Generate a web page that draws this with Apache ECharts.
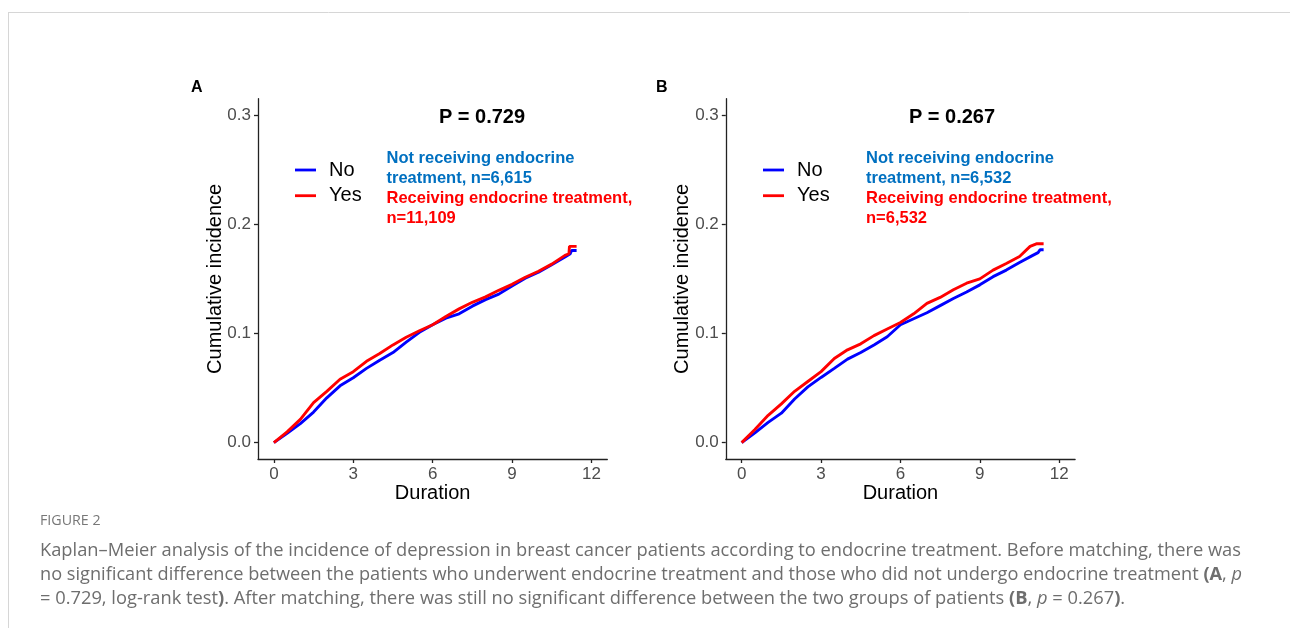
<!DOCTYPE html>
<html><head><meta charset="utf-8">
<script src="https://cdn.jsdelivr.net/npm/echarts@6/dist/echarts.min.js"></script>
<style>html,body{margin:0;padding:0;background:#fff}#c{width:1290px;height:628px}</style>
</head><body><div id="c"></div>
<script>
// ---- data ----
const xTicks = [0, 3, 6, 9, 12];
const yTicks = [0, 0.1, 0.2, 0.3];

const timesANo  = [0, 0.5, 1.0, 1.5, 2.0, 2.5, 3.0, 3.5, 4.0, 4.5, 5.0, 5.5, 6.0, 6.5, 7.0, 7.5, 8.0, 8.5, 9.0, 9.5, 10.0, 10.5, 11.0, 11.2, 11.25, 11.44];
const valuesANo = [0, 0.0085, 0.0174, 0.028, 0.041, 0.052, 0.0594, 0.068, 0.0755, 0.0825, 0.092, 0.101, 0.108, 0.114, 0.118, 0.125, 0.131, 0.136, 0.1435, 0.1505, 0.156, 0.163, 0.170, 0.173, 0.176, 0.176];

const timesAYes  = [0, 0.5, 1.0, 1.5, 2.0, 2.5, 3.0, 3.5, 4.0, 4.5, 5.0, 5.5, 6.0, 6.5, 7.0, 7.5, 8.0, 8.5, 9.0, 9.5, 10.0, 10.5, 11.0, 11.15, 11.17, 11.44];
const valuesAYes = [0, 0.0098, 0.0213, 0.0366, 0.047, 0.058, 0.065, 0.0745, 0.0816, 0.0895, 0.0965, 0.1025, 0.108, 0.1155, 0.1225, 0.1285, 0.1335, 0.1395, 0.145, 0.1515, 0.157, 0.1635, 0.1715, 0.173, 0.1797, 0.1797];

const timesBNo  = [0, 0.5, 1.0, 1.5, 2.0, 2.5, 3.0, 3.5, 4.0, 4.5, 5.0, 5.5, 6.0, 6.5, 7.0, 7.5, 8.0, 8.5, 9.0, 9.5, 10.0, 10.5, 11.0, 11.2, 11.28, 11.41];
const valuesBNo = [0, 0.009, 0.0185, 0.027, 0.040, 0.051, 0.0597, 0.068, 0.0765, 0.0825, 0.0895, 0.097, 0.108, 0.1135, 0.119, 0.1255, 0.132, 0.138, 0.1445, 0.152, 0.158, 0.165, 0.1715, 0.174, 0.1767, 0.1767];

const timesBYes  = [0, 0.5, 1.0, 1.5, 2.0, 2.5, 3.0, 3.5, 4.0, 4.5, 5.0, 5.5, 6.0, 6.5, 7.0, 7.5, 8.0, 8.5, 9.0, 9.5, 10.0, 10.5, 10.9, 11.16, 11.41];
const valuesBYes = [0, 0.012, 0.025, 0.0355, 0.047, 0.056, 0.065, 0.077, 0.085, 0.0905, 0.098, 0.104, 0.110, 0.118, 0.1275, 0.133, 0.140, 0.146, 0.150, 0.158, 0.164, 0.1705, 0.1797, 0.1822, 0.1822];

const panelLetters = ['A', 'B'];
const pValues = ['P = 0.729', 'P = 0.267'];
const groupNames = ['No', 'Yes'];
const annotA = ['Not receiving endocrine', 'treatment, n=6,615', 'Receiving endocrine treatment,', 'n=11,109'];
const annotB = ['Not receiving endocrine', 'treatment, n=6,532', 'Receiving endocrine treatment,', 'n=6,532'];

// ---- build ----
const zip = (t, v) => t.map((x, i) => [x, v[i]]);
const FONT = '"Liberation Sans", Arial, Helvetica, sans-serif';
const BLUE = '#0000FF', RED = '#FF0000', ANN_BLUE = '#0070C0';

function xAxis(gi) {
  return {
    type: 'value', gridIndex: gi, min: -0.6, max: 12.6,
    name: 'Duration', nameLocation: 'middle', nameGap: 24, nameMoveOverlap: false,
    nameTextStyle: { fontSize: 20, color: '#000', fontFamily: FONT },
    axisLine: { onZero: false, lineStyle: { color: '#222', width: 1.3 } },
    axisTick: { show: true, length: 4, customValues: xTicks, lineStyle: { color: '#222', width: 1.3 } },
    axisLabel: { customValues: xTicks, fontSize: 17, color: '#4d4d4d', margin: 7, fontFamily: FONT, formatter: v => String(v) },
    splitLine: { show: false }
  };
}
function yAxis(gi) {
  return {
    type: 'value', gridIndex: gi, min: -0.015, max: 0.315,
    name: 'Cumulative incidence', nameLocation: 'middle', nameGap: 33, nameRotate: 90, nameMoveOverlap: false,
    nameTextStyle: { fontSize: 20, color: '#000', fontFamily: FONT },
    axisLine: { onZero: false, lineStyle: { color: '#222', width: 1.3 } },
    axisTick: { show: true, length: 4, customValues: yTicks, lineStyle: { color: '#222', width: 1.3 } },
    axisLabel: { customValues: yTicks, fontSize: 17, color: '#4d4d4d', margin: 7, fontFamily: FONT, formatter: v => v.toFixed(1) },
    splitLine: { show: false }
  };
}
function line(name, gi, data, color) {
  return {
    type: 'line', name, xAxisIndex: gi, yAxisIndex: gi, data,
    showSymbol: false, symbol: 'none', lineStyle: { color, width: 2.9 }, itemStyle: { color },
    animation: false, z: name === 'Yes' ? 3 : 2
  };
}

const graphics = [];
// frame
graphics.push({ type: 'line', shape: { x1: 8, y1: 12.5, x2: 1290, y2: 12.5 }, style: { stroke: '#d6d6d6', lineWidth: 1 }, silent: true });
graphics.push({ type: 'line', shape: { x1: 8.5, y1: 12, x2: 8.5, y2: 628 }, style: { stroke: '#d6d6d6', lineWidth: 1 }, silent: true });

const letterX = [191, 656];
const pX = [482, 952];
const annX = [386.5, 866];
const legX = [295, 763];
[annotA, annotB].forEach((ann, p) => {
  graphics.push({ type: 'text', x: letterX[p], y: 88, style: { text: panelLetters[p], font: 'bold 16px ' + FONT, fill: '#000', verticalAlign: 'middle' } });
  graphics.push({ type: 'text', x: pX[p], y: 117, style: { text: pValues[p], font: 'bold 20px ' + FONT, fill: '#000', align: 'center', verticalAlign: 'middle' } });
  ann.forEach((t, i) => {
    graphics.push({ type: 'text', x: annX[p], y: 158 + i * 20, style: { text: t, font: 'bold 16.5px ' + FONT, fill: i < 2 ? ANN_BLUE : RED, verticalAlign: 'middle' } });
  });
  // legend keys
  [BLUE, RED].forEach((c, i) => {
    const y = 170 + i * 25.7;
    graphics.push({ type: 'line', shape: { x1: legX[p], y1: y, x2: legX[p] + 21, y2: y }, style: { stroke: c, lineWidth: 2.8 } });
    graphics.push({ type: 'text', x: legX[p] + 34, y: y, style: { text: groupNames[i], font: '20px ' + FONT, fill: '#000', verticalAlign: 'middle' } });
  });
});

// caption
const CAP_FONT = '"Open Sans", "Noto Sans", sans-serif';
const capLine1 = 'Kaplan\u2013Meier analysis of the incidence of depression in breast cancer patients according to endocrine treatment. Before matching, there was';
const ctx = document.createElement('canvas').getContext('2d');
ctx.font = '18px ' + CAP_FONT;
const capScale = 1201 / ctx.measureText(capLine1).width;
const capColor = '#6e6e6e';
const rich = {
  b: { fontFamily: CAP_FONT, fontSize: 18, fontWeight: 'bold', fill: capColor },
  i: { fontFamily: CAP_FONT, fontSize: 18, fontStyle: 'italic', fill: capColor }
};
graphics.push({ type: 'text', x: 40, y: 521, scaleX: capScale, style: { text: 'FIGURE 2', font: '14px ' + CAP_FONT, fill: '#777', verticalAlign: 'middle' } });
const capLines = [
  capLine1,
  'no significant difference between the patients who underwent endocrine treatment and those who did not undergo endocrine treatment {b|(A}, {i|p}',
  '= 0.729, log-rank test{b|)}. After matching, there was still no significant difference between the two groups of patients {b|(B}, {i|p} = 0.267{b|)}.'
];
capLines.forEach((t, i) => {
  graphics.push({ type: 'text', x: 40, y: 551 + i * 24, scaleX: i === 1 ? capScale * 0.994 : capScale,
    style: { text: t, font: '18px ' + CAP_FONT, fill: capColor, verticalAlign: 'middle', rich } });
});

const chart = echarts.init(document.getElementById('c'), null, { renderer: 'canvas' });
chart.setOption({
  backgroundColor: '#fff',
  animation: false,
  grid: [
    { left: 258, top: 98.7, width: 349.3, height: 360.3 },
    { left: 725.8, top: 98.7, width: 349.3, height: 360.3 }
  ],
  xAxis: [xAxis(0), xAxis(1)],
  yAxis: [yAxis(0), yAxis(1)],
  series: [
    line('No', 0, zip(timesANo, valuesANo), BLUE),
    line('Yes', 0, zip(timesAYes, valuesAYes), RED),
    line('No', 1, zip(timesBNo, valuesBNo), BLUE),
    line('Yes', 1, zip(timesBYes, valuesBYes), RED)
  ],
  graphic: graphics
});
</script></body></html>
